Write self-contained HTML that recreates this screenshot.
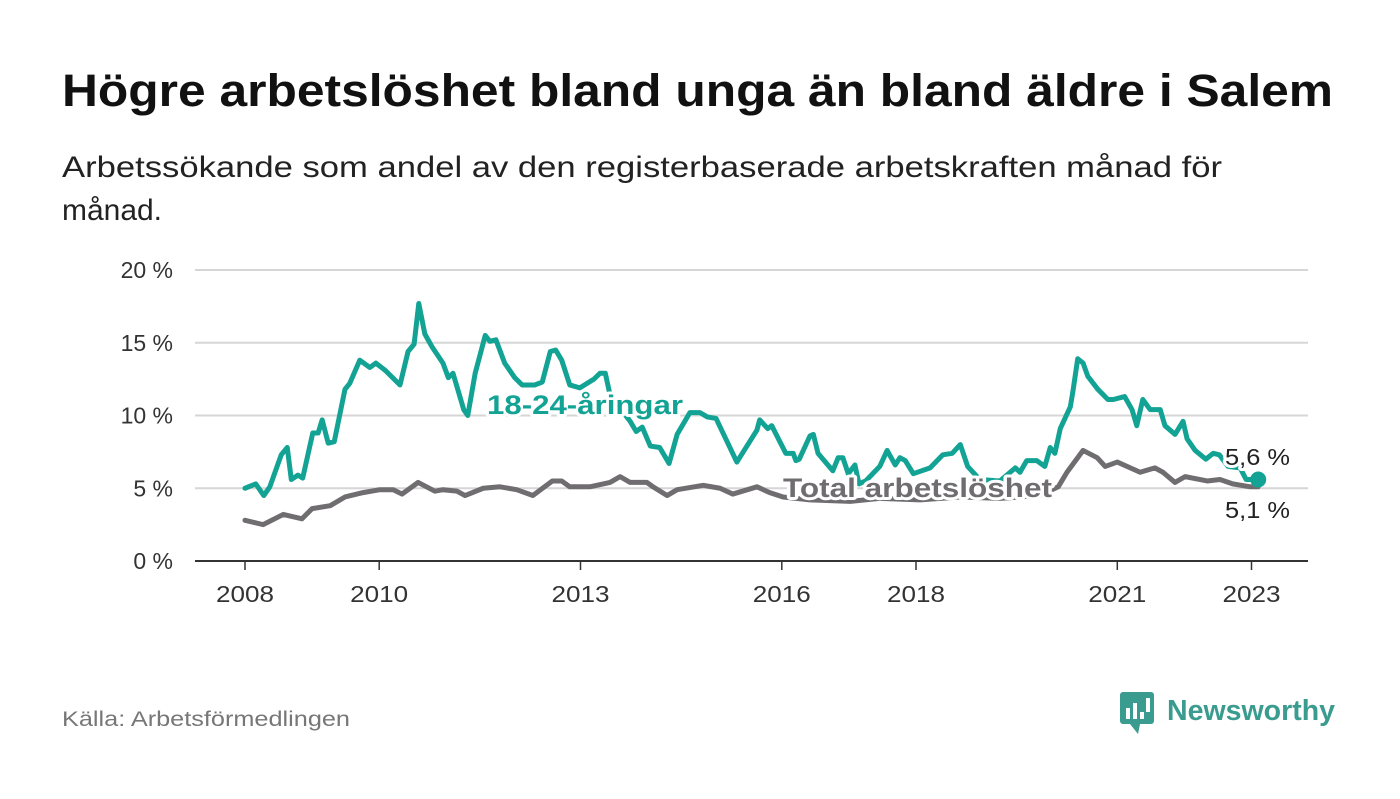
<!DOCTYPE html>
<html><head><meta charset="utf-8"><style>
body{margin:0;background:#fff;width:1400px;height:794px;overflow:hidden;font-family:"Liberation Sans",sans-serif}
</style></head><body>
<svg width="1400" height="794" xmlns="http://www.w3.org/2000/svg">
<text x="62" y="106" font-size="45" font-weight="bold" fill="#111" textLength="1271" lengthAdjust="spacingAndGlyphs">Högre arbetslöshet bland unga än bland äldre i Salem</text>
<text x="62" y="177" font-size="30" fill="#222" textLength="1160" lengthAdjust="spacingAndGlyphs">Arbetssökande som andel av den registerbaserade arbetskraften månad för</text>
<text x="62" y="220" font-size="30" fill="#222" textLength="100" lengthAdjust="spacingAndGlyphs">månad.</text>
<g id="grid"></g><g id="series"></g><g id="labels"></g>
<text x="62" y="726" font-size="21" fill="#777" textLength="288" lengthAdjust="spacingAndGlyphs">Källa: Arbetsförmedlingen</text>
<g>
<rect x="1120" y="692" width="34" height="32" rx="3" fill="#3a9b8f"/>
<path d="M1130 724 L1138 734 L1140 724Z" fill="#3a9b8f"/>
<rect x="1126" y="708" width="4" height="11" fill="#fff"/><rect x="1133" y="703" width="4" height="16" fill="#fff"/><rect x="1140" y="712" width="4" height="7" fill="#fff"/><rect x="1146" y="698" width="4" height="14" fill="#fff"/>
<text x="1167" y="720" font-size="29" font-weight="bold" fill="#3a9b8f" textLength="168" lengthAdjust="spacingAndGlyphs">Newsworthy</text>
</g>
</svg>
<script>
const yTicks=[0,5,10,15,20];
const yTickLabels=["0 %","5 %","10 %","15 %","20 %"];
const xTicks=[2008,2010,2013,2016,2018,2021,2023];
const youthDates=[2008.00,2008.16,2008.28,2008.37,2008.54,2008.63,2008.69,2008.79,2008.86,2009.01,2009.09,2009.15,2009.24,2009.33,2009.49,2009.56,2009.71,2009.86,2009.95,2010.09,2010.31,2010.43,2010.52,2010.59,2010.68,2010.79,2010.95,2011.03,2011.10,2011.26,2011.32,2011.43,2011.58,2011.65,2011.74,2011.87,2012.02,2012.13,2012.32,2012.43,2012.55,2012.63,2012.72,2012.84,2012.99,2013.20,2013.29,2013.37,2013.45,2013.59,2013.74,2013.83,2013.92,2014.04,2014.18,2014.32,2014.44,2014.63,2014.78,2014.89,2015.02,2015.33,2015.63,2015.67,2015.79,2015.85,2016.06,2016.17,2016.21,2016.26,2016.42,2016.47,2016.54,2016.76,2016.84,2016.91,2016.99,2017.09,2017.15,2017.25,2017.46,2017.57,2017.69,2017.76,2017.84,2017.96,2018.21,2018.40,2018.54,2018.66,2018.77,2018.95,2019.25,2019.48,2019.55,2019.65,2019.80,2019.92,2020.00,2020.07,2020.15,2020.22,2020.30,2020.34,2020.41,2020.49,2020.56,2020.71,2020.86,2020.94,2021.11,2021.22,2021.29,2021.38,2021.49,2021.64,2021.71,2021.86,2021.98,2022.04,2022.16,2022.32,2022.43,2022.52,2022.65,2022.83,2022.92,2023.10];
const youthValues=[5.0,5.3,4.5,5.1,7.3,7.8,5.6,5.9,5.7,8.8,8.8,9.7,8.1,8.2,11.8,12.2,13.8,13.3,13.6,13.1,12.1,14.4,14.9,17.7,15.6,14.7,13.6,12.6,12.9,10.4,10.0,12.9,15.5,15.1,15.2,13.6,12.6,12.1,12.1,12.3,14.4,14.5,13.8,12.1,11.9,12.5,12.9,12.9,11.2,10.5,9.6,8.9,9.2,7.9,7.8,6.7,8.7,10.2,10.2,9.9,9.8,6.8,9.0,9.7,9.1,9.3,7.4,7.4,6.9,7.0,8.6,8.7,7.4,6.2,7.1,7.1,6.0,6.6,5.3,5.5,6.5,7.6,6.6,7.1,6.9,6.0,6.4,7.3,7.4,8.0,6.5,5.6,5.5,6.4,6.1,6.9,6.9,6.5,7.8,7.4,9.1,9.8,10.6,11.7,13.9,13.6,12.7,11.8,11.1,11.1,11.3,10.4,9.3,11.1,10.4,10.4,9.3,8.7,9.6,8.4,7.6,7.0,7.4,7.3,6.5,6.4,5.6,5.6];
const totalDates=[2008.00,2008.27,2008.57,2008.85,2009.00,2009.27,2009.49,2009.76,2010.01,2010.21,2010.34,2010.58,2010.83,2010.95,2011.16,2011.28,2011.55,2011.80,2012.05,2012.29,2012.58,2012.72,2012.84,2013.14,2013.44,2013.59,2013.74,2013.99,2014.08,2014.29,2014.44,2014.83,2015.08,2015.27,2015.63,2015.82,2016.02,2016.42,2017.02,2017.46,2018.06,2018.66,2019.25,2019.85,2020.12,2020.25,2020.49,2020.70,2020.82,2021.00,2021.34,2021.56,2021.68,2021.86,2022.01,2022.34,2022.53,2022.72,2022.98,2023.10];
const totalValues=[2.8,2.5,3.2,2.9,3.6,3.8,4.4,4.7,4.9,4.9,4.6,5.4,4.8,4.9,4.8,4.5,5.0,5.1,4.9,4.5,5.5,5.5,5.1,5.1,5.4,5.8,5.4,5.4,5.1,4.5,4.9,5.2,5.0,4.6,5.1,4.7,4.4,4.2,4.1,4.3,4.2,4.4,4.3,4.5,5.1,6.1,7.6,7.1,6.5,6.8,6.1,6.4,6.1,5.4,5.8,5.5,5.6,5.3,5.1,5.1];
const NS="http://www.w3.org/2000/svg";
const xs=y=>245+(y-2008)*67.1;
const ys=v=>561-v*14.55;
function mk(t,a,p){const e=document.createElementNS(NS,t);for(const k in a)e.setAttribute(k,a[k]);p.appendChild(e);return e;}
const grid=document.getElementById('grid');
yTicks.forEach((v,i)=>{
 const l=mk('line',{x1:195,x2:1308,y1:ys(v),y2:ys(v),stroke:v===0?'#333':'#d6d6d6','stroke-width':2},grid);
 
 
 const t=mk('text',{x:173,y:ys(v)+8,'text-anchor':'end','font-size':23,fill:'#333'},grid);
 t.textContent=yTickLabels[i];
 
 
});
xTicks.forEach(y=>{
 const l=mk('line',{x1:xs(y),x2:xs(y),y1:561,y2:570,stroke:'#333','stroke-width':1.5},grid);
 
 
 const t=mk('text',{x:xs(y),y:602,'text-anchor':'middle','font-size':23,fill:'#333',textLength:58,lengthAdjust:'spacingAndGlyphs'},grid);
 t.textContent=y;
 
 
});
const ser=document.getElementById('series');
function line(d,v,c,name){
 const p=mk('polyline',{points:d.map((x,i)=>xs(x)+','+ys(v[i])).join(' '),fill:'none',stroke:c,'stroke-width':5,'stroke-linejoin':'round','stroke-linecap':'round'},ser);
 
 
}
line(totalDates,totalValues,'#6f6d70','total-line');
line(youthDates,youthValues,'#13a394','youth-line');
const lab=document.getElementById('labels');
const ye=youthDates.length-1,te=totalDates.length-1;
const d1=mk('circle',{cx:xs(youthDates[ye]),cy:ys(youthValues[ye]),r:8,fill:'#13a394'},lab);


function txt(x,y,s,sz,c,w,name,len){
 const t=mk('text',{x:x,y:y,'font-size':sz,fill:c,'font-weight':w,stroke:'#fff','stroke-width':6,'paint-order':'stroke','stroke-linejoin':'round',textLength:len,lengthAdjust:'spacingAndGlyphs'},lab);
 t.textContent=s;
 
 
}
txt(487,414,'18-24-åringar',27,'#13a394','bold','youth-series-label',196);
txt(783,497,'Total arbetslöshet',27,'#6f6d70','bold','total-series-label',269);
txt(1225,465,youthValues[ye].toFixed(1).replace('.',',')+' %',23,'#222','normal','youth-end-value',65);
txt(1225,518,totalValues[te].toFixed(1).replace('.',',')+' %',23,'#222','normal','total-end-value',65);
</script>
</body></html>
